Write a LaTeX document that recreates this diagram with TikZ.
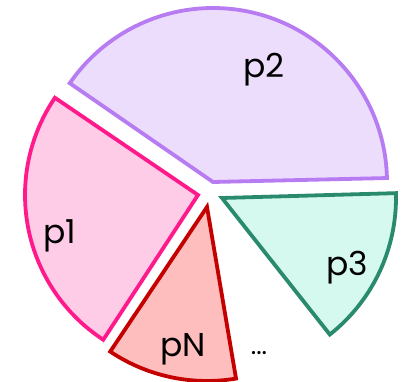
\documentclass[tikz,border=0pt]{standalone}
\usepackage{fontspec}
\setmainfont{Poppins}
\definecolor{ptwoline}{HTML}{B77CF2}
\definecolor{ptwofill}{HTML}{EDDDFD}
\definecolor{ponel}{HTML}{FF1A8C}
\definecolor{ponef}{HTML}{FFCCE8}
\definecolor{pthreel}{HTML}{2A8A6E}
\definecolor{pthreef}{HTML}{D5F9EE}
\definecolor{pnl}{HTML}{C40000}
\definecolor{pnf}{HTML}{FFBEBE}
\begin{document}
\begin{tikzpicture}[x=1pt,y=1pt,
  slice/.style={line width=3.8pt, line join=miter},
  lbl/.style={inner sep=0pt, font=\fontsize{33}{36}\selectfont}]
\useasboundingbox (0,0) rectangle (402,382);
% p2
\coordinate (c2) at (213,200);
\draw[slice, draw=ptwoline, fill=ptwofill] (c2) -- ++(1.3:174) arc[start angle=1.3, end angle=145.4, radius=174] -- cycle;
% p1
\coordinate (c1) at (198,187);
\draw[slice, draw=ponel, fill=ponef] (c1) -- ++(145.8:173) arc[start angle=145.8, end angle=236.8, radius=173] -- cycle;
% pN
\coordinate (cn) at (207,175);
\draw[slice, draw=pnl, fill=pnf] (cn) -- ++(236.2:174) arc[start angle=236.2, end angle=279.6, radius=174] -- cycle;
% p3
\coordinate (c3) at (222,184);
\draw[slice, draw=pthreel, fill=pthreef] (c3) -- ++(-51.7:174) arc[start angle=-51.7, end angle=1.6, radius=174] -- cycle;
\node[lbl] (l2) at (264,312) {p2};
\node[lbl] (l1) at (60,146) {p1};
\node[lbl] (l3) at (347,114) {p3};
\node[lbl] (ln) at (183,33) {pN};
\node[lbl, font=\fontsize{26}{28}\selectfont] (dots) at (259,29) {...};
\end{tikzpicture}
\end{document}
